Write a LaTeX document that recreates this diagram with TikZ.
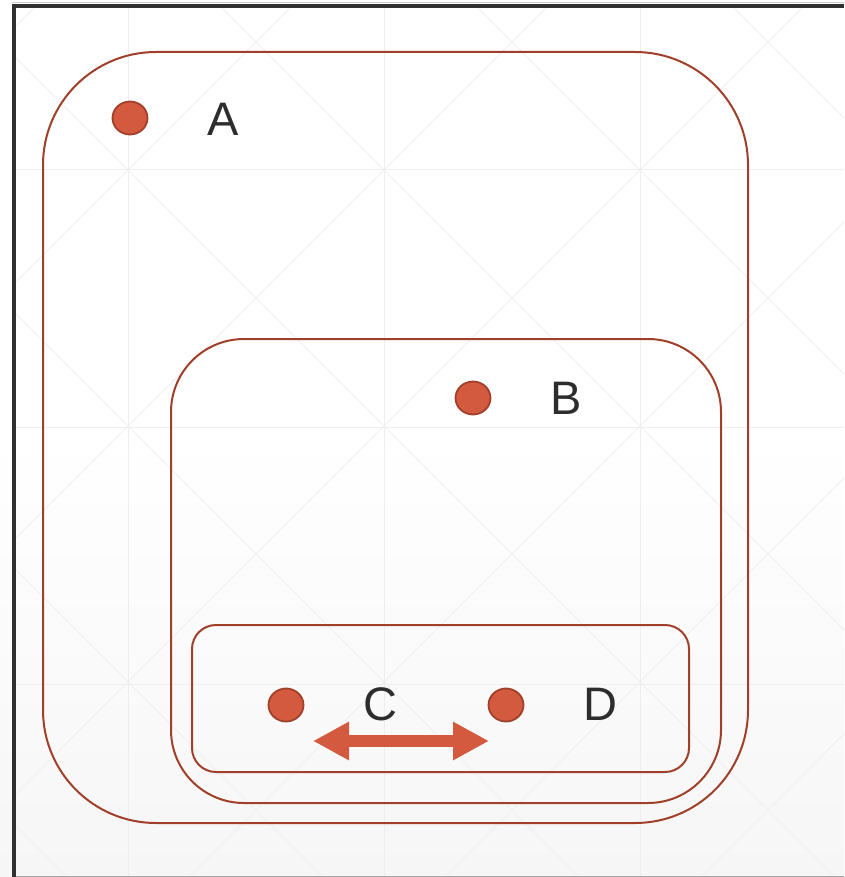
\documentclass[tikz,border=0pt]{standalone}
\usepackage{fontspec}
\setmainfont{Liberation Sans}
\usetikzlibrary{arrows.meta,shapes.geometric}
\definecolor{rust}{RGB}{160,64,42}
\definecolor{dotfill}{RGB}{211,90,62}
\definecolor{ink}{RGB}{45,45,45}
\definecolor{gridline}{RGB}{238,238,238}
\definecolor{diagline}{RGB}{240,240,240}
\definecolor{frameline}{RGB}{48,48,48}
\tikzset{
  region/.style={draw=rust, line width=2pt, rectangle, inner sep=0pt, fill=none},
  point/.style={ellipse, draw=rust, line width=1.8pt, fill=dotfill, minimum width=35pt, minimum height=33pt, inner sep=0pt},
  tag/.style={text=ink, font=\fontsize{47}{47}\selectfont, inner sep=0pt},
  swap/.style={draw=dotfill, line width=12pt, {Triangle[length=36pt,width=36pt]}-{Triangle[length=36pt,width=36pt]}}
}
\begin{document}
\begin{tikzpicture}[x=1pt,y=-1pt]
\useasboundingbox (0,0) rectangle (844,877);
% backdrop
\fill[white] (0,0) rectangle (844,430);
\shade[top color=white, bottom color={rgb,255:red,246;green,246;blue,246}] (0,430) rectangle (844,877);
\begin{scope}
  \clip (16,8) rectangle (844,876);
  \foreach \gx in {128,384,640} \draw[gridline, line width=1pt] (\gx,0) -- (\gx,877);
  \foreach \gy in {170,427,684} \draw[gridline, line width=1pt] (0,\gy) -- (844,\gy);
  \foreach \k in {-4,...,4} {
    \draw[diagline, line width=1pt] (0,42+256*\k) -- (900,942+256*\k);
  }
  \foreach \k in {-1,...,7} {
    \draw[diagline, line width=1pt] (0,298+256*\k-256) -- (900,298+256*\k-1156);
  }
\end{scope}
% window frame
\draw[gray!40, line width=1pt] (12,3) -- (844,3);
\draw[frameline, line width=4pt] (12,6) -- (844,6);
\draw[frameline, line width=4pt] (14,4) -- (14,877);
\draw[gray!70, line width=1pt] (16,876.5) -- (844,876.5);
% nested regions
\node[region, rounded corners=113pt, minimum width=705pt, minimum height=771pt] (regA) at (395.5,437.5) {};
\node[region, rounded corners=73pt, minimum width=550pt, minimum height=464pt] (regB) at (446,571) {};
\node[region, rounded corners=24pt, minimum width=497pt, minimum height=147pt] (regCD) at (440.5,698.5) {};
% points and their letters
\node[point] (pA) at (130,118) {};
\node[tag] (lA) at (223,119) {A};
\node[point] (pB) at (473,398) {};
\node[tag] (lB) at (566,398) {B};
\node[point] (pC) at (286,705) {};
\node[tag] (lC) at (380,704) {C};
\node[point] (pD) at (506,705) {};
\node[tag] (lD) at (600,704) {D};
% exchange arrow between C and D
\coordinate (swL) at (313,741);
\coordinate (swR) at (489,741);
\draw[swap] (swL) -- (swR);
\end{tikzpicture}
\end{document}
